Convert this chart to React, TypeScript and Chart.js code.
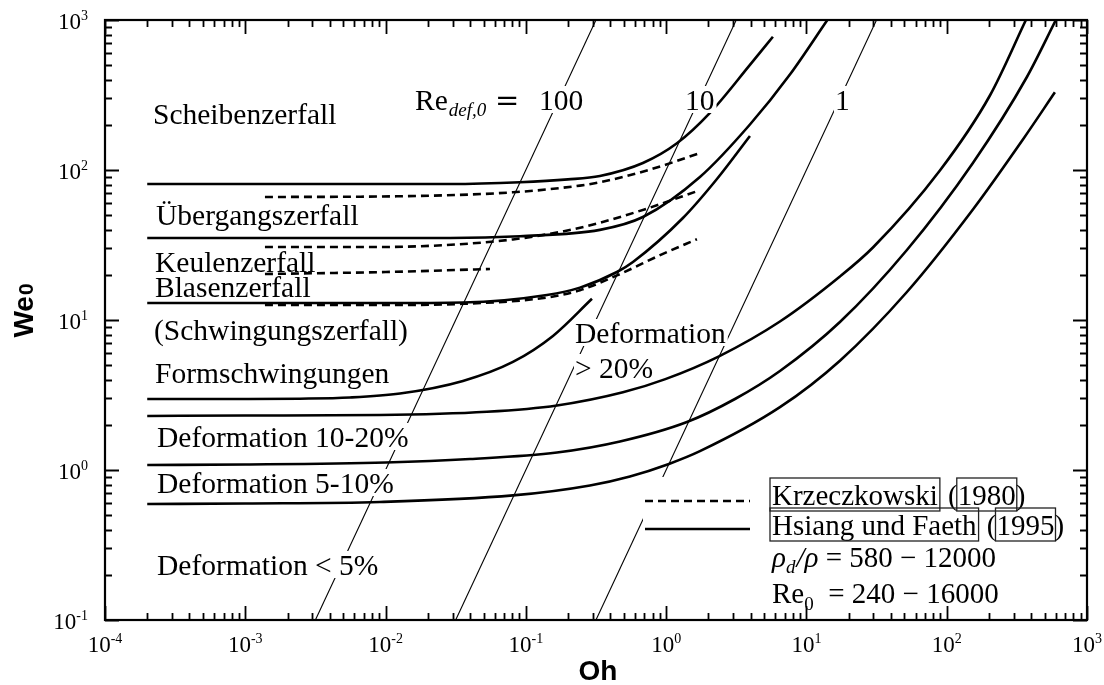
import React, { useEffect, useRef } from "react";
import { Chart, registerables } from "chart.js";

Chart.register(...registerables);

const SERIF = '"Liberation Serif", "Times New Roman", serif';
const SANS = '"Liberation Sans", Arial, sans-serif';

// ---- Hsiang und Faeth (1995): solid regime boundaries (Oh, We0) ----
const scheibenOh = [2e-4, 1e-3, 1e-2, 0.0288, 0.0908, 0.1995, 0.337, 0.683, 1.194, 2.052, 3.957, 5.768];
const scheibenWe = [80.7, 80.7, 80.7, 80.7, 82.9, 86.6, 91.3, 111.4, 150.7, 240.3, 502, 773];

const uebergangOh = [2e-4, 1e-3, 1e-2, 0.0288, 0.0908, 0.337, 0.683, 1.741, 3.957, 7.627, 14.1];
const uebergangWe = [35.2, 35.2, 35.2, 35.2, 36.2, 39.9, 48.6, 89.8, 201, 433, 1000];

const blasenOh = [2e-4, 1e-3, 1e-2, 0.0356, 0.1414, 0.2429, 0.446, 0.58, 1.317, 2.302, 3.957];
const blasenWe = [12.98, 12.98, 12.98, 13.08, 14.68, 16.44, 20.89, 24.36, 47.86, 87.1, 168.6];

const formOh = [2e-4, 1e-3, 2.454e-3, 5.575e-3, 0.01267, 0.0356, 0.0809, 0.156, 0.296];
const formWe = [2.974, 2.974, 2.988, 3.043, 3.236, 3.927, 5.257, 7.834, 13.85];

const def20Oh = [2e-4, 1e-3, 9.12e-3, 0.0528, 0.1666, 0.492, 0.987, 2.381, 6.474, 17.33, 29.79, 89.42, 203.2, 366.9];
const def20We = [2.291, 2.308, 2.326, 2.443, 2.692, 3.296, 4.036, 5.728, 9.772, 19.5, 30.43, 99.2, 313.8, 1000];

const def10Oh = [2e-4, 1e-3, 0.01, 0.04, 0.1666, 0.4686, 1.407, 3.094, 6.474, 17.33, 52.03, 153.7, 372.9, 600];
const def10We = [1.08, 1.088, 1.122, 1.184, 1.308, 1.549, 2.089, 2.974, 4.571, 9.697, 29.29, 111.4, 416.9, 1000];

const def5Oh = [2e-4, 1e-3, 9.12e-3, 0.0809, 0.2863, 0.552, 1.047, 1.741, 6.474, 17.33, 52.03, 153.7, 349.2, 590.4];
const def5We = [0.593, 0.598, 0.612, 0.677, 0.789, 0.906, 1.098, 1.335, 2.623, 5.355, 15.37, 54.53, 159.7, 329.6];

// ---- Krzeczkowski (1980): dashed boundaries ----
const krzAOh = [1.381e-3, 0.01206, 0.0809, 0.2429, 0.3373, 0.7296, 1.691];
const krzAWe = [66.07, 66.78, 71.02, 78.7, 82.9, 99.2, 128.4];

const krzBOh = [1.381e-3, 9.12e-3, 0.02739, 0.0809, 0.1868, 0.3373, 0.7296, 1.691];
const krzBWe = [30.67, 30.67, 31.62, 34.45, 39.08, 44.53, 55.29, 72.67];

const krzCOh = [1.381e-3, 0.01, 0.05547];
const krzCWe = [20.26, 20.89, 21.88];

const krzDOh = [1.381e-3, 9.12e-3, 0.0356, 0.1414, 0.2429, 0.446, 0.9489, 1.658];
const krzDWe = [12.59, 12.59, 12.82, 14.13, 15.8, 19.83, 27.62, 34.56];

// ---- Re_def,0 lines, read where they meet the frame ----
const reLabels = ["100", "10", "1"];
const reOhAtBottom = [0.00316, 0.0316, 0.316];
const reOhAtTop = [0.316, 3.16, 31.6];
const reWeEnds = [0.1, 1000];

// ---- axes / legend text ----
const xTickExponents = [-4, -3, -2, -1, 0, 1, 2, 3];
const yTickExponents = [-1, 0, 1, 2, 3];
const legendNames = ["Krzeczkowski", "Hsiang und Faeth"];
const legendYears = ["1980", "1995"];

function pts(oh: number[], we: number[]) {
  return oh.map((x, i) => ({ x, y: we[i] }));
}

function solid(oh: number[], we: number[]) {
  return {
    data: pts(oh, we),
    showLine: true,
    borderColor: "#000",
    borderWidth: 2.6,
    pointRadius: 0,
    cubicInterpolationMode: "monotone" as const,
    fill: false,
  };
}

function dashed(oh: number[], we: number[]) {
  return { ...solid(oh, we), borderDash: [8, 5] };
}

function reLine(i: number) {
  return {
    data: [
      { x: reOhAtBottom[i], y: reWeEnds[0] },
      { x: reOhAtTop[i], y: reWeEnds[1] },
    ],
    showLine: true,
    borderColor: "#000",
    borderWidth: 1.1,
    pointRadius: 0,
    fill: false,
  };
}

function put(ctx: CanvasRenderingContext2D, s: string, x: number, y: number, font: string, white = false) {
  ctx.font = font;
  const w = ctx.measureText(s).width;
  if (white) {
    ctx.fillStyle = "#fff";
    ctx.fillRect(x - 1, y - 24, w + 3, 27);
  }
  ctx.fillStyle = "#000";
  ctx.fillText(s, x, y);
  return w;
}

function pow10Label(ctx: CanvasRenderingContext2D, e: number, x: number, y: number, align: "center" | "right") {
  const es = String(e);
  ctx.font = `23px ${SERIF}`;
  const w1 = ctx.measureText("10").width;
  ctx.font = `14px ${SERIF}`;
  const w2 = ctx.measureText(es).width;
  const start = align === "center" ? x - (w1 + w2) / 2 : x - (w1 + w2);
  ctx.fillStyle = "#000";
  ctx.font = `23px ${SERIF}`;
  ctx.fillText("10", start, y);
  ctx.font = `14px ${SERIF}`;
  ctx.fillText(es, start + w1, y - 9);
}

function legendRow(ctx: CanvasRenderingContext2D, name: string, year: string, x: number, y: number) {
  const LF = `29px ${SERIF}`;
  ctx.font = LF;
  ctx.fillStyle = "#000";
  ctx.strokeStyle = "#222";
  ctx.lineWidth = 1.3;
  const w1 = ctx.measureText(name).width;
  ctx.fillText(name, x, y);
  ctx.strokeRect(x - 2, y - 27, w1 + 4, 33);
  const xp = x + w1 + ctx.measureText(" ").width + 3;
  ctx.fillText("(", xp, y);
  const xy = xp + ctx.measureText("(").width;
  const wy = ctx.measureText(year).width;
  ctx.fillText(year, xy, y);
  ctx.strokeRect(xy - 1, y - 27, wy + 2, 33);
  ctx.fillText(")", xy + wy, y);
}

const overlay = {
  id: "overlay",
  afterDatasetsDraw(chart: any) {
    const ctx = chart.ctx as CanvasRenderingContext2D;
    ctx.save();
    ctx.textAlign = "left";
    ctx.textBaseline = "alphabetic";
    const F = `29.5px ${SERIF}`;
    put(ctx, "Scheibenzerfall", 153, 124, F);
    put(ctx, "Übergangszerfall", 156, 225, F);
    put(ctx, "Keulenzerfall", 155, 272, F);
    put(ctx, "Blasenzerfall", 155, 297, F);
    put(ctx, "(Schwingungszerfall)", 154, 340, F);
    put(ctx, "Formschwingungen", 155, 383, F);
    put(ctx, "Deformation 10-20%", 157, 447, F, true);
    put(ctx, "Deformation 5-10%", 157, 493, F, true);
    put(ctx, "Deformation < 5%", 157, 575, F, true);
    put(ctx, "Deformation", 575, 343, F, true);
    put(ctx, "> 20%", 575, 378, F, true);

    // Re_def,0 labels
    const wRe = put(ctx, "Re", 415, 110, F);
    put(ctx, "def,0", 415 + wRe + 1, 116, `italic 19px ${SERIF}`);
    put(ctx, "=", 495, 110, `29px "DejaVu Serif", ${SERIF}`);
    put(ctx, reLabels[0], 539, 110, F, true);
    put(ctx, reLabels[1], 685, 110, F, true);
    put(ctx, reLabels[2], 835, 110, F, true);

    // legend
    ctx.fillStyle = "#fff";
    ctx.fillRect(643, 477, 441, 70);
    ctx.strokeStyle = "#000";
    ctx.lineWidth = 2.5;
    ctx.setLineDash([8, 5]);
    ctx.beginPath();
    ctx.moveTo(645, 501);
    ctx.lineTo(750, 501);
    ctx.stroke();
    ctx.setLineDash([]);
    ctx.beginPath();
    ctx.moveTo(645, 529);
    ctx.lineTo(750, 529);
    ctx.stroke();
    legendRow(ctx, legendNames[0], legendYears[0], 772, 505);
    legendRow(ctx, legendNames[1], legendYears[1], 772, 535);

    const LF = `29px ${SERIF}`;
    let x = 772;
    x += put(ctx, "ρ", x, 567, `italic ${LF}`);
    x += put(ctx, "d", x, 573, `italic 19px ${SERIF}`);
    x += put(ctx, "/ρ", x + 1, 567, `italic ${LF}`) + 1;
    put(ctx, " = 580 − 12000", x, 567, LF);

    x = 772;
    x += put(ctx, "Re", x, 603, LF);
    x += put(ctx, "0", x, 610, `19px ${SERIF}`);
    put(ctx, "  = 240 − 16000", x, 603, LF);
    ctx.restore();
  },
  afterDraw(chart: any) {
    const ctx = chart.ctx as CanvasRenderingContext2D;
    const a = chart.chartArea;
    const xs = chart.scales.x;
    const ys = chart.scales.y;
    ctx.save();
    ctx.strokeStyle = "#000";
    ctx.lineWidth = 1.8;
    ctx.beginPath();
    for (const e of xTickExponents) {
      for (let k = 1; k <= 9; k++) {
        const v = k * Math.pow(10, e);
        if (v > xs.max * 1.0001) break;
        const p = Math.round(xs.getPixelForValue(v)) + 0.5;
        const len = k === 1 ? 14 : 7;
        ctx.moveTo(p, a.bottom);
        ctx.lineTo(p, a.bottom - len);
        ctx.moveTo(p, a.top);
        ctx.lineTo(p, a.top + len);
      }
    }
    for (const e of yTickExponents) {
      for (let k = 1; k <= 9; k++) {
        const v = k * Math.pow(10, e);
        if (v > ys.max * 1.0001) break;
        const p = Math.round(ys.getPixelForValue(v)) + 0.5;
        const len = k === 1 ? 14 : 7;
        ctx.moveTo(a.left, p);
        ctx.lineTo(a.left + len, p);
        ctx.moveTo(a.right, p);
        ctx.lineTo(a.right - len, p);
      }
    }
    ctx.stroke();
    ctx.lineWidth = 2.2;
    ctx.strokeRect(a.left, a.top, a.right - a.left, a.bottom - a.top);

    ctx.textAlign = "left";
    ctx.textBaseline = "alphabetic";
    for (const e of xTickExponents) {
      pow10Label(ctx, e, xs.getPixelForValue(Math.pow(10, e)), a.bottom + 32, "center");
    }
    for (const e of yTickExponents) {
      pow10Label(ctx, e, a.left - 17, ys.getPixelForValue(Math.pow(10, e)) + 9, "right");
    }

    // axis titles
    ctx.fillStyle = "#000";
    ctx.font = `bold 28px ${SANS}`;
    ctx.textAlign = "center";
    ctx.fillText("Oh", (a.left + a.right) / 2 + 2, 680);
    ctx.textAlign = "left";
    ctx.save();
    ctx.translate(33, 311);
    ctx.rotate(-Math.PI / 2);
    ctx.font = `bold 28px ${SANS}`;
    const w1 = ctx.measureText("We").width;
    ctx.font = `bold 21px ${SANS}`;
    const w2 = ctx.measureText("0").width;
    const s = -(w1 + w2) / 2;
    ctx.font = `bold 28px ${SANS}`;
    ctx.fillText("We", s, 0);
    ctx.font = `bold 21px ${SANS}`;
    ctx.fillText("0", s + w1 + 1, 0);
    ctx.restore();
    ctx.restore();
  },
};

export default function App() {
  const ref = useRef<HTMLCanvasElement | null>(null);
  useEffect(() => {
    if (!ref.current) return;
    const datasets: any[] = [
      reLine(0),
      reLine(1),
      reLine(2),
      solid(scheibenOh, scheibenWe),
      solid(uebergangOh, uebergangWe),
      solid(blasenOh, blasenWe),
      solid(formOh, formWe),
      solid(def20Oh, def20We),
      solid(def10Oh, def10We),
      solid(def5Oh, def5We),
      dashed(krzAOh, krzAWe),
      dashed(krzBOh, krzBWe),
      dashed(krzCOh, krzCWe),
      dashed(krzDOh, krzDWe),
    ];
    const chart = new Chart(ref.current, {
      type: "scatter",
      data: { datasets },
      options: {
        animation: false,
        responsive: true,
        maintainAspectRatio: false,
        events: [],
        layout: { padding: { left: 105, right: 17, top: 20, bottom: 65 } },
        scales: {
          x: { type: "logarithmic", min: 1e-4, max: 1e3, display: false },
          y: { type: "logarithmic", min: 0.1, max: 1000, display: false },
        },
        plugins: { legend: { display: false }, tooltip: { enabled: false } },
      },
      plugins: [overlay],
    } as any);
    return () => chart.destroy();
  }, []);
  return (
    <div style={{ position: "fixed", left: 0, top: 0, width: 1104, height: 685, background: "#fff" }}>
      <canvas ref={ref} />
    </div>
  );
}
